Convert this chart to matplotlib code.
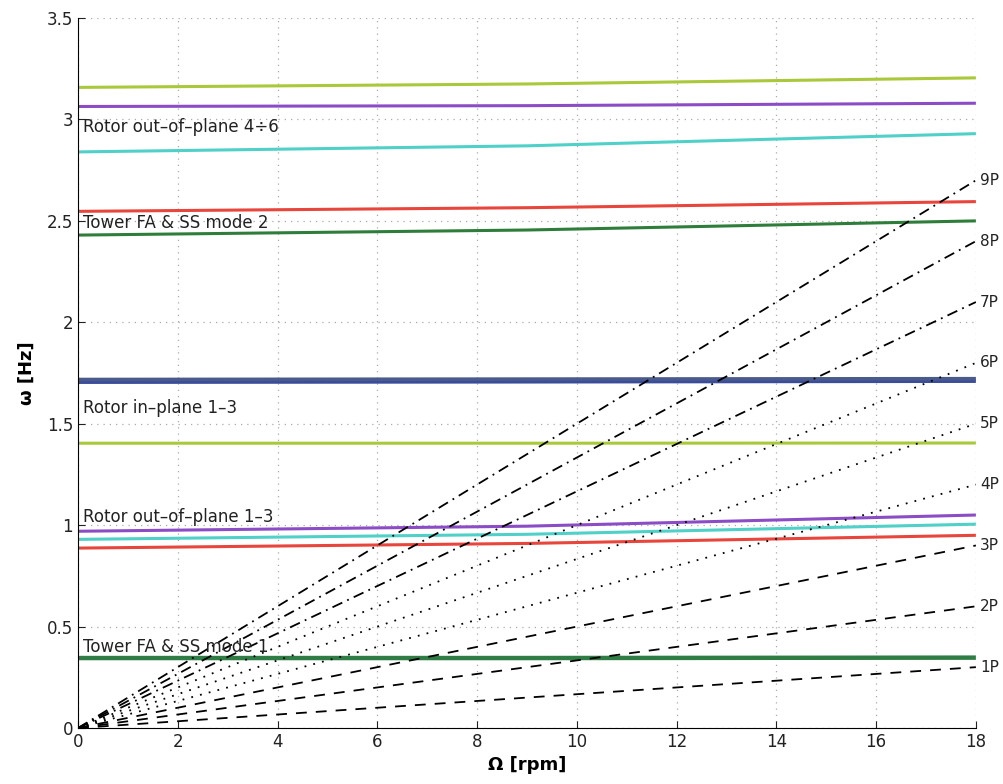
import numpy as np
import matplotlib
matplotlib.use("Agg")
import matplotlib.pyplot as plt

# rotor speed grid where mode frequencies were read
omega_rpm = [0, 9, 18]

# natural frequencies [Hz] at omega_rpm
tower1_fa   = [0.345, 0.345, 0.347]
rot_op1_red = [0.887, 0.910, 0.950]
rot_op1_cyn = [0.930, 0.955, 1.005]
rot_op1_pur = [0.970, 0.995, 1.050]
rot_ip_ygr  = [1.404, 1.404, 1.405]
rot_ip_blu  = [1.705, 1.707, 1.710]
rot_ip_gry  = [1.718, 1.720, 1.722]
tower2      = [2.430, 2.455, 2.500]
rot_op4_red = [2.547, 2.565, 2.595]
rot_op4_cyn = [2.840, 2.870, 2.930]
rot_op4_pur = [3.064, 3.068, 3.080]
rot_op4_ygr = [3.158, 3.175, 3.205]

modes = [tower1_fa, rot_op1_red, rot_op1_cyn, rot_op1_pur, rot_ip_ygr,
         rot_ip_blu, rot_ip_gry, tower2, rot_op4_red, rot_op4_cyn,
         rot_op4_pur, rot_op4_ygr]
mode_colors = ['#2f7d45', '#e8453c', '#4fd0c8', '#8b4cc6', '#a9c83a',
               '#3a4c9c', '#4a5a8a', '#2f7d3a', '#e8453c', '#4fd0c8',
               '#8b4cc6', '#a9c83a']
mode_widths = [3.2, 2.2, 2.2, 2.2, 2.2, 2.6, 2.6, 2.2, 2.2, 2.2, 2.2, 2.2]

# excitation harmonics
harmonics = [1, 2, 3, 4, 5, 6, 7, 8, 9]
harm_styles = [(0, (6, 5)), (0, (6, 5)), (0, (6, 5)),
               (0, (1, 4)), (0, (1, 4)), (0, (1, 4)),
               (0, (6, 3, 1, 3)), (0, (6, 3, 1, 3)), (0, (6, 3, 1, 3))]

mode_labels = ["Tower FA & SS mode 1", "Rotor out\u2013of\u2013plane 1\u20133",
               "Rotor in\u2013plane 1\u20133", "Tower FA & SS mode 2",
               "Rotor out\u2013of\u2013plane 4\u00f76"]
label_y = [0.40, 1.04, 1.58, 2.49, 2.965]

fig = plt.figure(figsize=(10.04, 7.84), dpi=100)
ax = fig.add_axes([0.0777, 0.0714, 0.8943, 0.9056])

for vals, c, lw in zip(modes, mode_colors, mode_widths):
    ax.plot(omega_rpm, vals, color=c, linewidth=lw, solid_capstyle='butt')

x_rpm = np.array([0, 18])
for n, ls in zip(harmonics, harm_styles):
    ax.plot(x_rpm, n * x_rpm / 60.0, color='black', linestyle=ls, linewidth=1.3)
    ax.text(18.08, n * 18 / 60.0, f"{n}P", fontsize=11, va='center', ha='left',
            color='#222222', clip_on=False)

for txt, y in zip(mode_labels, label_y):
    ax.text(0.1, y, txt, fontsize=12, va='center', ha='left', color='#222222')

ax.set_xlim(0, 18)
ax.set_ylim(0, 3.5)
ax.set_xticks(np.arange(0, 19, 2))
ax.set_yticks(np.arange(0, 3.51, 0.5))
ax.set_yticklabels(['0', '0.5', '1', '1.5', '2', '2.5', '3', '3.5'])
ax.grid(True, linestyle=(0, (1, 4)), color='#aaaaaa', linewidth=0.9)
ax.tick_params(direction='in', labelsize=12, length=5, colors='#222222')
ax.spines['top'].set_visible(False)
ax.spines['right'].set_visible(False)
ax.set_xlabel("\u03a9 [rpm]", fontsize=13, fontweight='bold', labelpad=4)
ax.set_ylabel("\u03c9 [Hz]", fontsize=13, fontweight='bold', labelpad=8)

plt.savefig("out.png", dpi=100)
